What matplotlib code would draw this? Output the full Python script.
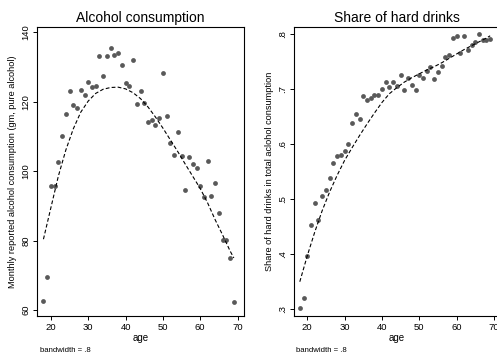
import matplotlib
matplotlib.use("Agg")
import matplotlib.pyplot as plt

plt.rcParams['font.family'] = ['Liberation Sans', 'DejaVu Sans']

# ages of the binned means
age = list(range(18, 70))

# mean monthly alcohol consumption per age
alcohol = [62.7, 69.4, 95.8, 95.8, 102.5, 110.0, 116.6, 123.0, 119.0, 118.3,
           123.3, 121.8, 125.6, 124.1, 124.6, 133.2, 127.4, 133.1, 135.4, 133.5,
           133.9, 130.5, 125.4, 124.6, 132.0, 119.3, 123.0, 119.5, 114.2, 114.7,
           113.2, 115.2, 128.2, 115.8, 108.2, 104.6, 111.3, 104.4, 94.7, 104.0,
           102.0, 100.8, 95.8, 92.5, 102.8, 92.7, 96.5, 88.0, 80.2, 80.2,
           75.0, 62.3]

# share of hard drinks per age
hard_share = [0.302, 0.320, 0.397, 0.452, 0.492, 0.462, 0.506, 0.516, 0.538, 0.566,
              0.578, 0.579, 0.587, 0.600, 0.637, 0.654, 0.645, 0.687, 0.679, 0.683,
              0.689, 0.688, 0.699, 0.712, 0.704, 0.712, 0.705, 0.724, 0.698, 0.719,
              0.707, 0.698, 0.724, 0.720, 0.732, 0.739, 0.717, 0.730, 0.742, 0.758,
              0.761, 0.792, 0.796, 0.764, 0.795, 0.770, 0.779, 0.784, 0.799, 0.789,
              0.789, 0.790]

# lowess curves
smooth_age = [18, 20, 22, 24, 26, 28, 30, 32, 34, 36, 38, 40, 42, 44, 46, 48,
              50, 52, 54, 56, 58, 60, 62, 64, 66, 68, 69]
alcohol_smooth = [80.4, 89.5, 98.6, 106.1, 112.2, 117.0, 120.2, 122.4, 123.6,
                  124.1, 124.2, 123.7, 122.6, 120.9, 118.5, 115.6, 112.4, 109.0,
                  105.6, 102.0, 98.5, 95.0, 90.8, 86.0, 81.6, 77.0, 75.0]
hard_smooth = [0.350, 0.397, 0.440, 0.479, 0.513, 0.543, 0.570, 0.593, 0.615,
               0.636, 0.656, 0.675, 0.691, 0.702, 0.712, 0.720, 0.727, 0.734,
               0.740, 0.747, 0.755, 0.763, 0.771, 0.778, 0.785, 0.792, 0.796]

x_ticks = [20, 30, 40, 50, 60, 70]
left_yticks = [60, 80, 100, 120, 140]
right_yticks = [0.3, 0.4, 0.5, 0.6, 0.7, 0.8]
right_ylabels = ['.3', '.4', '.5', '.6', '.7', '.8']

dot_color = '#595959'

fig = plt.figure(figsize=(4.97, 3.56), dpi=100)
ax1 = fig.add_axes([0.0751, 0.1132, 0.4159, 0.8101])
ax2 = fig.add_axes([0.5909, 0.1132, 0.4159, 0.8101])

panels = [
    (ax1, alcohol, alcohol_smooth, 'Alcohol consumption',
     'Monthly reported alcohol consumption (gm, pure alcohol)',
     (58.36, 141.44), left_yticks, [str(v) for v in left_yticks]),
    (ax2, hard_share, hard_smooth, 'Share of hard drinks',
     'Share of hard drinks in total aclohol consumption',
     (0.2884, 0.8114), right_yticks, right_ylabels),
]

for ax, ys, smooth, title, ylabel, ylim, yticks, ylabels in panels:
    ax.scatter(age, ys, s=12, color=dot_color, linewidths=0, zorder=3)
    ax.plot(smooth_age, smooth, color='black', lw=0.8, dashes=(3.4, 2.0), zorder=4)
    ax.set_xlim(16.36, 71.73)
    ax.set_ylim(*ylim)
    ax.set_xticks(x_ticks)
    ax.set_yticks(yticks)
    ax.set_yticklabels(ylabels)
    ax.tick_params(axis='both', labelsize=6.8, length=3, width=0.7, pad=2,
                   direction='out')
    ax.tick_params(axis='y', labelrotation=90)
    for lab in ax.get_yticklabels():
        lab.set_va('center')
    for sp in ax.spines.values():
        sp.set_linewidth(0.8)
    ax.set_title(title, fontsize=10, pad=4)
    ax.set_xlabel('age', fontsize=7, labelpad=1)
    ax.set_ylabel(ylabel, fontsize=6.6, labelpad=3)

fig.text(40 / 497, 1 - 350 / 356, 'bandwidth = .8', fontsize=5.6, va='center')
fig.text(295.7 / 497, 1 - 350 / 356, 'bandwidth = .8', fontsize=5.6, va='center')

fig.savefig('out.png', dpi=100)
